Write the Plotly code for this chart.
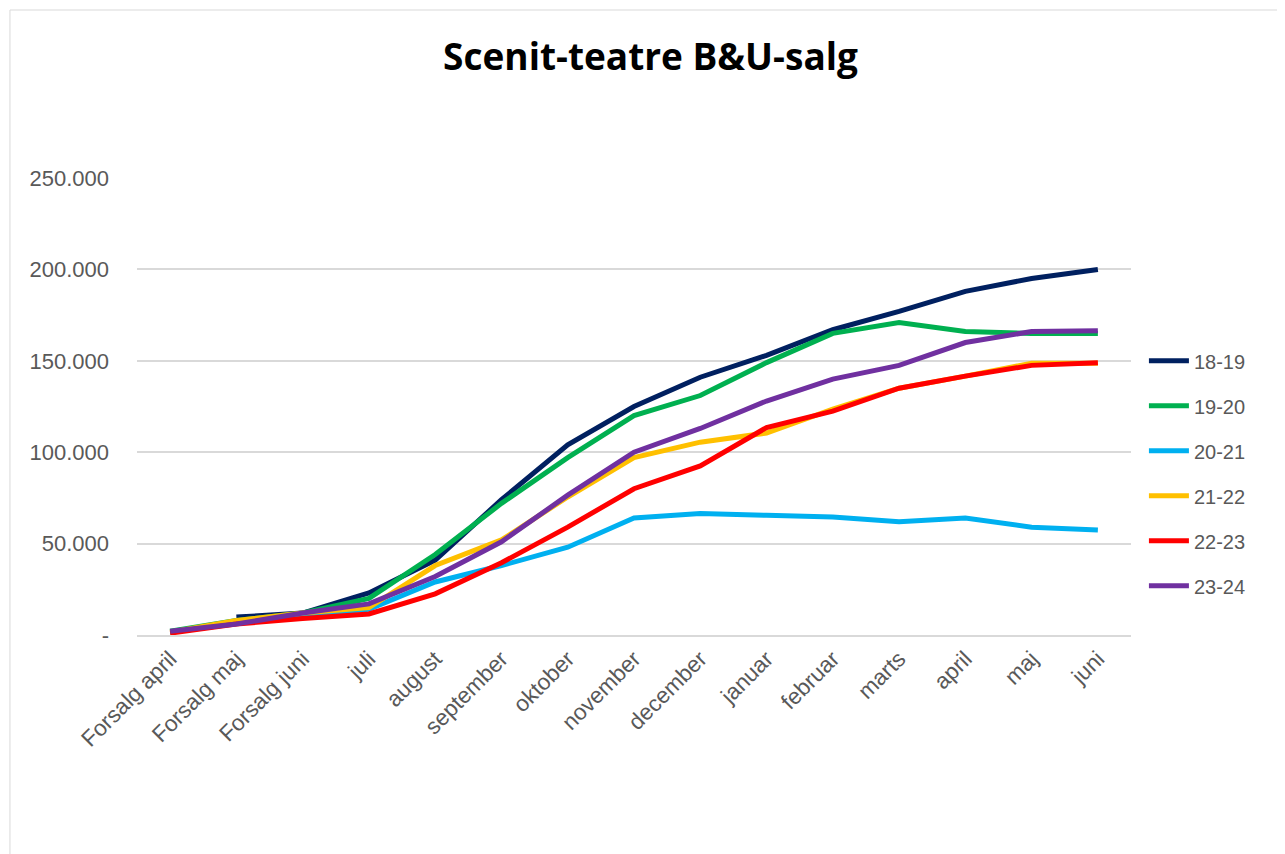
import plotly.graph_objects as go

months = ['Forsalg april', 'Forsalg maj', 'Forsalg juni', 'juli', 'august', 'september',
          'oktober', 'november', 'december', 'januar', 'februar', 'marts', 'april', 'maj', 'juni']

s_18_19 = [None, 9800, 12000, 23000, 41000, 74000, 104000, 125000, 141000, 153000,
           167000, 177000, 188000, 195000, 200000]
s_19_20 = [2000, 8000, 12000, 20000, 44000, 72000, 97000, 120000, 131000, 149000,
           165000, 171000, 166000, 165000, 165000]
s_20_21 = [1500, 6000, 11000, 14000, 29000, 38000, 48000, 64000, 66500, 65500,
           64500, 62000, 64000, 59000, 57400]
s_21_22 = [1500, 8000, 12000, 15000, 38000, 52000, 75500, 97000, 105500, 110500,
           123500, 135000, 141600, 148700, 148700]
s_22_23 = [1000, 6000, 9000, 11500, 22500, 39500, 59000, 80000, 92500, 113500,
           122500, 135000, 141600, 147500, 149000]
s_23_24 = [2000, 6000, 12000, 17000, 32000, 51000, 76500, 100000, 113000, 128000,
           140000, 147500, 160000, 166000, 166500]

series = [
    ('18-19', s_18_19, '#002060'),
    ('19-20', s_19_20, '#00B050'),
    ('20-21', s_20_21, '#00B0F0'),
    ('21-22', s_21_22, '#FFC000'),
    ('22-23', s_22_23, '#FF0000'),
    ('23-24', s_23_24, '#7030A0'),
]

y_ticks = [0, 50000, 100000, 150000, 200000, 250000]
y_labels = ['-', '50.000', '100.000', '150.000', '200.000', '250.000']

fig = go.Figure()
for i, (name, vals, col) in enumerate(series):
    fig.add_trace(go.Scatter(
        x=months, y=vals, name=name, mode='lines',
        line=dict(color=col, width=5),
        legendgroup=f'g{i}', hoverinfo='skip'
    ))

# outer chart border
fig.add_shape(type='rect', xref='paper', yref='paper',
              x0=-0.1278, x1=1.2, y0=-0.5, y1=1.3676,
              line=dict(color='#d9d9d9', width=1), fillcolor='rgba(0,0,0,0)')

fig.update_layout(
    width=1285, height=854,
    paper_bgcolor='white', plot_bgcolor='white',
    font=dict(family='Liberation Sans, Arial, sans-serif', color='#595959', size=22),
    title=dict(text='<b>Scenit-teatre B&U-salg</b>', x=0.5, xanchor='center',
               y=0.9426, yanchor='middle',
               font=dict(size=37, color='black', family='Open Sans, sans-serif')),
    margin=dict(l=129, r=162, t=170, b=227),
    xaxis=dict(type='category', range=[-0.5, 14.5], showgrid=False,
               tickangle=-45, ticks='', showline=True, linecolor='#d9d9d9', linewidth=1.5,
               tickfont=dict(size=22.5, color='#595959')),
    yaxis=dict(range=[0, 250000], tickvals=y_ticks, ticktext=y_labels,
               showgrid=True, gridcolor='#d9d9d9', gridwidth=1.5, zeroline=False,
               ticks='', ticklabelstandoff=27, tickfont=dict(size=22, color='#595959')),
    legend=dict(x=1.013, y=0.354, xanchor='left', yanchor='middle',
                tracegroupgap=16, font=dict(size=20, color='#595959'),
                itemwidth=40),
    showlegend=True,
)

fig.write_html('out.html')
